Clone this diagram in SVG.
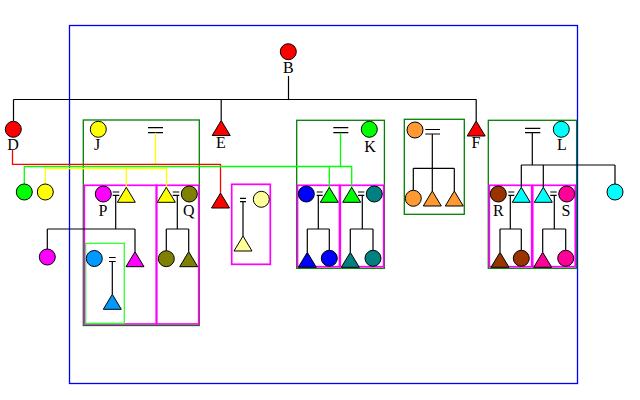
<svg xmlns="http://www.w3.org/2000/svg" xmlns:xlink="http://www.w3.org/1999/xlink" width="640" height="400" viewBox="0 0 640 400">
<style>
.frame{fill:none;stroke:#0000ff;stroke-width:1.3}
.fam{fill:none;stroke:#008000;stroke-width:1.3}
.sub{fill:none;stroke:#ff00ff;stroke-width:1.7}
.lg{fill:none;stroke:#33ff33;stroke-width:1.3}
.ln{fill:none;stroke:#000;stroke-width:1.2}
.red{fill:none;stroke:#ff0000;stroke-width:1.3}
.grn{fill:none;stroke:#00ff00;stroke-width:1.3}
.yel{fill:none;stroke:#ffff00;stroke-width:1.3}
.n{stroke:#000;stroke-width:1}
.lbl{font-family:"Liberation Serif","Times New Roman",serif;font-size:16px;text-anchor:middle;fill:#000}
</style>
<defs>
<path id="tri" d="M0,0 L9,15 L-9,15 Z"/>
</defs>
<rect width="640" height="400" fill="#fff"/>
<g id="boxes">
<rect class="frame" x="69.5" y="25.5" width="508" height="358"/>
<rect class="fam" x="83.3" y="120" width="116" height="205.5"/>
<rect class="sub" x="84.3" y="185.3" width="72" height="138.7"/>
<rect class="sub" x="156.7" y="185.3" width="42" height="138.7"/>
<rect class="lg" x="85.7" y="243.3" width="38.6" height="80"/>
<rect class="sub" x="231.7" y="184.3" width="38.6" height="80"/>
<rect class="fam" x="296.7" y="120.3" width="87.7" height="148"/>
<rect class="sub" x="297.5" y="185.3" width="42" height="81.4"/>
<rect class="sub" x="340.3" y="185.3" width="43.4" height="81.4"/>
<rect class="fam" x="404.3" y="119.3" width="60" height="95"/>
<rect class="fam" x="488.3" y="120.3" width="88.3" height="148"/>
<rect class="sub" x="489.3" y="185.3" width="42.4" height="81.4"/>
<rect class="sub" x="532.7" y="185.3" width="42.6" height="81.4"/>
</g>
<g id="connectors">
<path class="ln" d="M288.5,76 V99.5 M13.5,99.5 H476.5 M13.5,99.5 V121 M221.2,99.5 V120.5 M476.2,99.5 V121"/>
<path class="ln" d="M148,127.7 H163 M148,132.7 H163 M333.3,127.7 H348.3 M333.3,132.7 H348.3 M425.3,129.5 H440 M425.3,134 H440 M525,128.3 H540.3 M525,132.7 H540.3"/>
<path class="ln" d="M112.7,192 H119.3 M112.7,195.3 H119.3 M172.7,192 H179.3 M172.7,195.3 H179.3 M109,257.5 H115.7 M109,261.5 H115.7 M240,198.3 H246 M240,201.7 H246 M316.7,192 H322.7 M316.7,195.3 H322.7 M358,192 H364.3 M358,195.3 H364.3 M508.3,192 H514.3 M508.3,195.3 H514.3 M550.3,192 H556.7 M550.3,195.3 H556.7"/>
<path class="ln" d="M115.7,195.3 V229 M47.3,229 H135 M47.3,229 V249 M135,229 V251.7 M112.3,261.5 V294.3 M177.3,195.3 V229 M166.3,229 H188.7 M166.3,229 V250.7 M188.7,229 V251.7 M243,201.7 V236"/>
<path class="ln" d="M318.3,195.3 V229 M307.3,229 H329.3 M307.3,229 V252.3 M329.3,229 V250.3 M362.3,195.3 V229 M350.3,229 H373 M350.3,229 V252.3 M373,229 V250.3"/>
<path class="ln" d="M432.3,134 V168.3 M413.3,168.3 H454.3 M413.3,168.3 V190.3 M432.3,168.3 V191 M454.3,168.3 V191"/>
<path class="ln" d="M532.3,132.7 V165 M521.3,165 H615 M521.3,165 V187.3 M543.3,165 V187.3 M615,165 V184 M510.3,195.3 V229 M500,229 H521.3 M500,229 V252.3 M521.3,229 V250.3 M554.3,195.3 V229 M542.7,229 H565.7 M542.7,229 V252.3 M565.7,229 V250.3"/>
<path class="yel" d="M155.5,132.7 V164.3 M45.3,184 V168.5 H166.5 V187.3 M126.3,168.5 V187.3"/>
<path class="red" d="M12.5,150 V164.3 H220.5 V193"/>
<path class="grn" d="M24.3,184 V166.5 H351.7 V187.3 M329.3,166.5 V187.3 M340.5,132.7 V166.5"/>
</g>
<g id="B"><circle class="n" cx="288.3" cy="51.7" r="8" fill="#ff0000"/><text class="lbl" x="288.3" y="73.3">B</text></g>
<g id="D"><circle class="n" cx="13.3" cy="129.3" r="8" fill="#ff0000"/><text class="lbl" x="13" y="149.7">D</text></g>
<g id="E"><use xlink:href="#tri" class="n" x="221.2" y="120.5" fill="#ff0000"/><text class="lbl" x="221" y="148.3">E</text></g>
<g id="F"><use xlink:href="#tri" class="n" x="476.2" y="121" fill="#ff0000"/><text class="lbl" x="476" y="148.3">F</text></g>
<g id="J"><circle class="n" cx="98.3" cy="129.3" r="8" fill="#ffff00"/><text class="lbl" x="97" y="149.5">J</text></g>
<g id="K"><circle class="n" cx="369.3" cy="129.3" r="8" fill="#00ff00"/><text class="lbl" x="370" y="151.5">K</text></g>
<g id="L"><circle class="n" cx="561.3" cy="129.3" r="8" fill="#00ffff"/><text class="lbl" x="562" y="150">L</text></g>
<g id="n_green"><circle class="n" cx="24.3" cy="192" r="8" fill="#00ff00"/></g>
<g id="n_yellow"><circle class="n" cx="45.3" cy="192" r="8" fill="#ffff00"/></g>
<g id="n_redtri"><use xlink:href="#tri" class="n" x="220.5" y="193" fill="#ff0000"/></g>
<g id="P"><circle class="n" cx="103.3" cy="194" r="8" fill="#ff00ff"/><text class="lbl" x="103" y="216.3">P</text></g>
<g id="P_spouse"><use xlink:href="#tri" class="n" x="126.3" y="187.3" fill="#ffff00"/></g>
<g id="P_c1"><circle class="n" cx="47.3" cy="257" r="8" fill="#ff00ff"/></g>
<g id="P_c2"><use xlink:href="#tri" class="n" x="135" y="251.7" fill="#ff00ff"/></g>
<g id="P_c3"><circle class="n" cx="94.3" cy="258.5" r="8" fill="#0099ff"/></g>
<g id="P_c3child"><use xlink:href="#tri" class="n" x="112.3" y="294.3" fill="#0099ff"/></g>
<g id="Q_spouse"><use xlink:href="#tri" class="n" x="166.3" y="187.3" fill="#ffff00"/></g>
<g id="Q"><circle class="n" cx="189.3" cy="194" r="8" fill="#808000"/><text class="lbl" x="188.7" y="216">Q</text></g>
<g id="Q_c1"><circle class="n" cx="166.3" cy="258.7" r="8" fill="#808000"/></g>
<g id="Q_c2"><use xlink:href="#tri" class="n" x="188.7" y="251.7" fill="#808000"/></g>
<g id="n_lightyellow"><circle class="n" cx="261.3" cy="199.3" r="8" fill="#ffff99"/></g>
<g id="n_lightyellow_child"><use xlink:href="#tri" class="n" x="243" y="236" fill="#ffff99"/></g>
<g id="K1_a"><circle class="n" cx="306.3" cy="194" r="8" fill="#0000ff"/></g>
<g id="K1_b"><use xlink:href="#tri" class="n" x="329.3" y="187.3" fill="#00ff00"/></g>
<g id="K1_c1"><use xlink:href="#tri" class="n" x="307.3" y="252.3" fill="#0000ff"/></g>
<g id="K1_c2"><circle class="n" cx="329.3" cy="258.3" r="8" fill="#0000ff"/></g>
<g id="K2_a"><use xlink:href="#tri" class="n" x="351.7" y="187.3" fill="#00ff00"/></g>
<g id="K2_b"><circle class="n" cx="374.3" cy="194" r="8" fill="#008080"/></g>
<g id="K2_c1"><use xlink:href="#tri" class="n" x="350.3" y="252.3" fill="#008080"/></g>
<g id="K2_c2"><circle class="n" cx="373" cy="258.3" r="8" fill="#008080"/></g>
<g id="O_a"><circle class="n" cx="415" cy="130" r="8" fill="#ff9933"/></g>
<g id="O_c1"><circle class="n" cx="413.3" cy="198.3" r="8" fill="#ff9933"/></g>
<g id="O_c2"><use xlink:href="#tri" class="n" x="432.3" y="191" fill="#ff9933"/></g>
<g id="O_c3"><use xlink:href="#tri" class="n" x="454.3" y="191" fill="#ff9933"/></g>
<g id="n_cyan"><circle class="n" cx="615" cy="192" r="8" fill="#00ffff"/></g>
<g id="R"><circle class="n" cx="498.3" cy="194" r="8" fill="#993300"/><text class="lbl" x="498.3" y="216">R</text></g>
<g id="R_spouse"><use xlink:href="#tri" class="n" x="521.3" y="187.3" fill="#00ffff"/></g>
<g id="R_c1"><use xlink:href="#tri" class="n" x="500" y="252.3" fill="#993300"/></g>
<g id="R_c2"><circle class="n" cx="521.3" cy="258.3" r="8" fill="#993300"/></g>
<g id="S_spouse"><use xlink:href="#tri" class="n" x="543.3" y="187.3" fill="#00ffff"/></g>
<g id="S"><circle class="n" cx="566.7" cy="194" r="8" fill="#ff0099"/><text class="lbl" x="566" y="216">S</text></g>
<g id="S_c1"><use xlink:href="#tri" class="n" x="542.7" y="252.3" fill="#ff0099"/></g>
<g id="S_c2"><circle class="n" cx="565.7" cy="258.3" r="8" fill="#ff0099"/></g>
</svg>
